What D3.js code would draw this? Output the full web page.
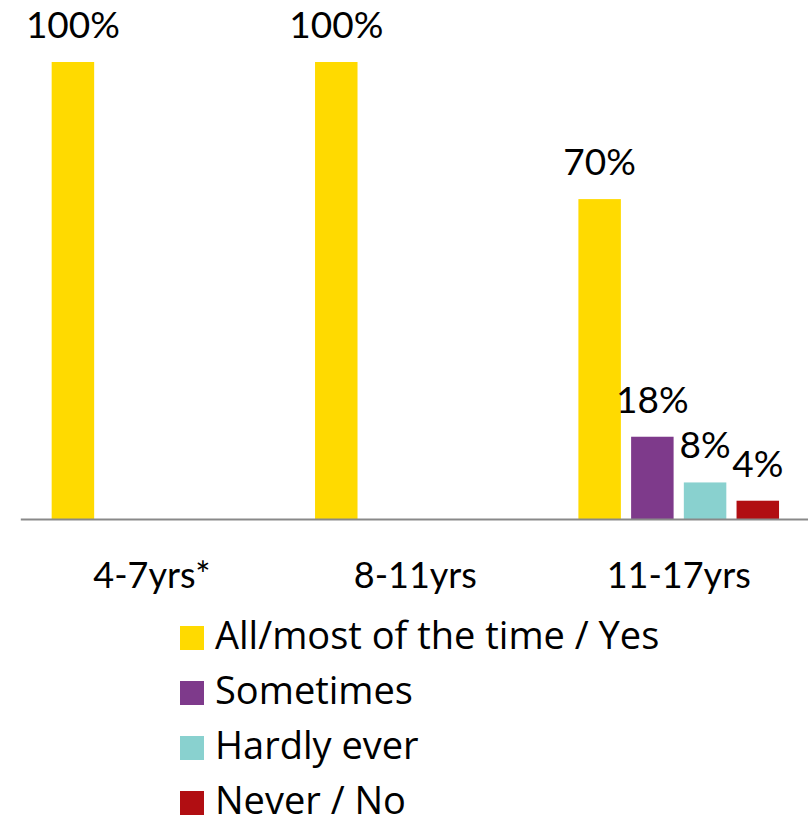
<!DOCTYPE html>
<html>
<head>
<meta charset="utf-8">
<script src="https://cdn.jsdelivr.net/npm/d3@7"></script>
<style>
	body { margin: 0; background: #fff; }
	svg text { font-family: Lato, "Open Sans", sans-serif; fill: #000; }
	svg .legend text { font-family: "Open Sans", Lato, sans-serif; }
</style>
</head>
<body>
<div id="chart"></div>
<script>
// chart data
var categories = ['4-7yrs*', '8-11yrs', '11-17yrs'];
var seriesNames = ['All/most of the time / Yes', 'Sometimes', 'Hardly ever', 'Never / No'];
var allMost = [1.00, 1.00, 0.70];
var sometimes = [null, null, 0.18];
var hardlyEver = [null, null, 0.08];
var neverNo = [null, null, 0.04];
var seriesColors = ['#FFDA00', '#7E3A8B', '#89D1CF', '#B10E12'];

(function(){

	var width = 808,
		height = 828;

	var seriesValues = [allMost, sometimes, hardlyEver, neverNo];

	var svg = d3.select('#chart').append('svg')
		.attr('width', width)
		.attr('height', height);

	var x0 = d3.scaleBand()
		.domain(categories)
		.range([20.3, 810.4]);

	var x1 = d3.scaleBand()
		.domain(d3.range(seriesNames.length))
		.range([0, x0.bandwidth()])
		.paddingInner(0.194)
		.paddingOuter(0.595);

	var y = d3.scaleLinear()
		.domain([0, 1])
		.range([519, 62]);

	// flatten to one record per bar, skipping empty cells
	var bars = [];
	categories.forEach(function (c, i) {
		seriesValues.forEach(function (vals, s) {
			if (vals[i] != null) bars.push({ cat: c, s: s, v: vals[i] });
		});
	});

	var g = svg.append('g');

	g.selectAll('rect.bar').data(bars)
		.enter().append('rect')
		.attr('class', 'bar')
		.attr('x', function (d) { return x0(d.cat) + x1(d.s); })
		.attr('width', x1.bandwidth())
		.attr('y', function (d) { return y(d.v); })
		.attr('height', function (d) { return y(0) - y(d.v); })
		.style('fill', function (d) { return seriesColors[d.s]; });

	g.selectAll('text.val').data(bars)
		.enter().append('text')
		.attr('class', 'val')
		.attr('x', function (d) { return x0(d.cat) + x1(d.s) + x1.bandwidth() / 2; })
		.attr('y', function (d) { return y(d.v) - 24; })
		.attr('text-anchor', 'middle')
		.style('font-size', '37px')
		.text(function (d) { return d3.format('.0%')(d.v); });

	// baseline / category axis
	var axis = svg.append('g')
		.attr('transform', 'translate(0,' + y(0) + ')')
		.call(d3.axisBottom(x0).tickSize(0).tickPadding(0));
	axis.select('.domain').attr('stroke', '#898989').attr('stroke-width', 2);
	axis.selectAll('.tick text')
		.attr('y', 69)
		.attr('dy', null)
		.style('font-size', '36px')
		.style('font-family', 'Lato, "Open Sans", sans-serif')
		.style('fill', '#000');

	// legend
	var legend = svg.append('g')
		.attr('class', 'legend')
		.selectAll('g').data(seriesNames)
		.enter().append('g')
		.attr('transform', function (d, i) { return 'translate(180,' + (626 + i * 55) + ')'; });

	legend.append('rect')
		.attr('width', 24)
		.attr('height', 24)
		.style('fill', function (d, i) { return seriesColors[i]; });

	legend.append('text')
		.attr('x', 35)
		.attr('y', 23)
		.style('font-size', '38px')
		.text(function (d) { return d; });

})();
</script>
</body>
</html>
